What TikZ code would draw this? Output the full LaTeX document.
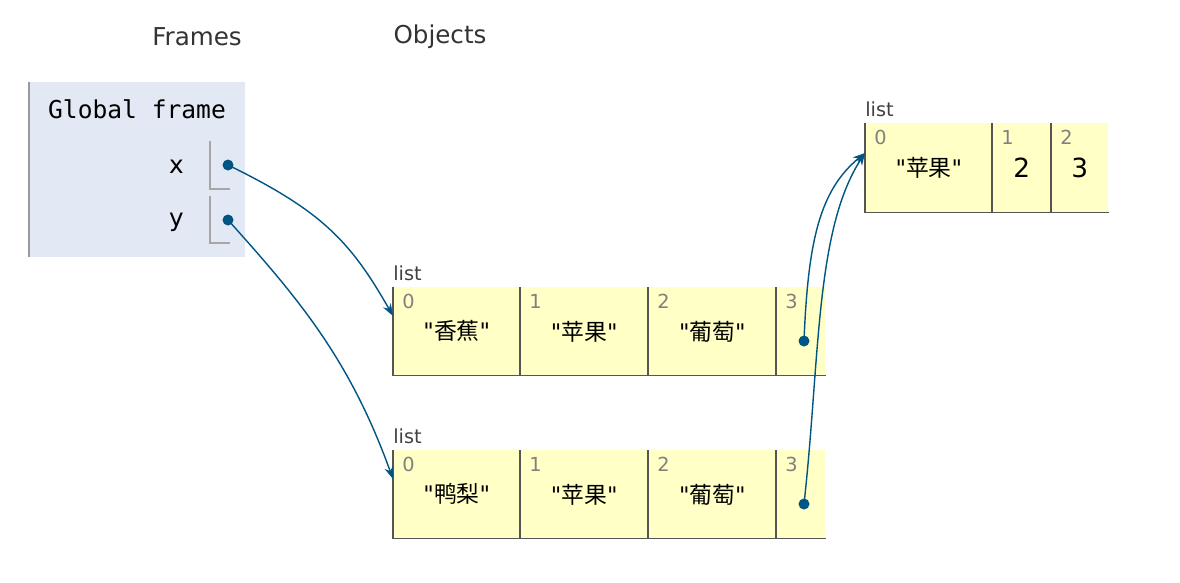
\documentclass[tikz,border=0pt]{standalone}
\usepackage{fontspec}
\setsansfont{DejaVu Sans}
\setmonofont{DejaVu Sans Mono}
\newfontfamily\cjk{Noto Sans CJK SC}
\usetikzlibrary{arrows.meta, positioning}
\definecolor{ptblue}{HTML}{005583}
\definecolor{framebg}{HTML}{E2E9F4}
\definecolor{cellbg}{HTML}{FFFFC6}
\definecolor{edge}{HTML}{555555}

\tikzset{
  cell/.style={fill=cellbg, minimum height=1.76cm, anchor=north west, inner sep=0pt, font=\sffamily\fontsize{13}{15}\selectfont},
  idx/.style={anchor=north west, inner sep=0pt, text=gray, font=\sffamily\fontsize{11}{13}\selectfont},
  tag/.style={anchor=south west, inner sep=0pt, text=black!75, font=\sffamily\fontsize{11}{13}\selectfont},
  ptr/.style={circle, fill=ptblue, inner sep=0pt, minimum size=0.22cm},
  ref/.style={ptblue, thick, -{Stealth[length=7pt,width=5pt]}}
}
\newcommand{\str}[1]{\raisebox{-0.2cm}{\textquotedbl{\cjk #1}\textquotedbl}}
\newcommand{\num}[1]{\raisebox{-0.25cm}{\fontsize{15}{17}\selectfont #1}}

\begin{document}
\begin{tikzpicture}[x=0.02cm, y=-0.02cm]
        \useasboundingbox (0,0) rectangle (1180,582);

        \node[font=\sffamily\fontsize{14}{16}\selectfont, text=black!80] (frames) at (197,37) {Frames};
        \node[font=\sffamily\fontsize{14}{16}\selectfont, text=black!80] (objects) at (440,37) {Objects};

        % global frame
        \fill[framebg] (28,82) rectangle (245,257);
        \draw[gray!80, thick] (29,82) -- (29,257);
        \node[font=\ttfamily\fontsize{14}{16}\selectfont] (gf) at (137,109) {Global frame};
        \node[anchor=east, font=\sffamily\fontsize{14}{16}\selectfont] (vx) at (190,167) {x};
        \node[anchor=east, font=\sffamily\fontsize{14}{16}\selectfont] (vy) at (190,222) {y};
        \draw[gray!70, thick] (210,141) -- (210,189) -- (230,189);
        \draw[gray!70, thick] (210,196) -- (210,243) -- (230,243);
        \node[ptr] (px) at (228,165) {};
        \node[ptr] (py) at (228,220) {};

        % list 1
        \node[tag] (l1) at (393,281) {list};
        \node[cell, minimum width=2.54cm] (a0) at (393,287) {\str{香蕉}};
        \node[cell, minimum width=2.56cm] (a1) at (520,287) {\str{苹果}};
        \node[cell, minimum width=2.56cm] (a2) at (648,287) {\str{葡萄}};
        \node[cell, minimum width=0.98cm] (a3) at (776,287) {};

        % list 2
        \node[tag] (l2) at (393,444) {list};
        \node[cell, minimum width=2.54cm] (b0) at (393,450) {\str{鸭梨}};
        \node[cell, minimum width=2.56cm] (b1) at (520,450) {\str{苹果}};
        \node[cell, minimum width=2.56cm] (b2) at (648,450) {\str{葡萄}};
        \node[cell, minimum width=0.98cm] (b3) at (776,450) {};

        % list 3
        \node[tag] (l3) at (865,117) {list};
        \node[cell, minimum width=2.54cm, minimum height=1.78cm] (c0) at (865,123) {\str{苹果}};
        \node[cell, minimum width=1.18cm, minimum height=1.78cm] (c1) at (992,123) {\num{2}};
        \node[cell, minimum width=1.14cm, minimum height=1.78cm] (c2) at (1051,123) {\num{3}};

        % borders and indices
        \foreach \c/\i in {a0/0, a1/1, a2/2, a3/3, b0/0, b1/1, b2/2, b3/3, c0/0, c1/1, c2/2} {
          \draw[edge, thick] (\c.north west) -- (\c.south west);
          \draw[edge, thick] (\c.south west) -- (\c.south east);
          \node[idx] at ([xshift=0.18cm, yshift=-0.14cm]\c.north west) {\i};
        }

        \node[ptr] (pa) at (804,341) {};
        \node[ptr] (pb) at (804,504) {};

        % pointers
        \draw[ref] (px.center) .. controls (320,210) and (350,240) .. (a0.west |- 0,316);
        \draw[ref] (py.center) .. controls (300,300) and (350,360) .. (b0.west |- 0,479);
        \draw[ref] (pa.center) .. controls (808,240) and (820,190) .. (c0.north west |- 0,153);
        \draw[ref] (pb.center) .. controls (820,360) and (815,230) .. (c0.north west |- 0,153);
\end{tikzpicture}
\end{document}
